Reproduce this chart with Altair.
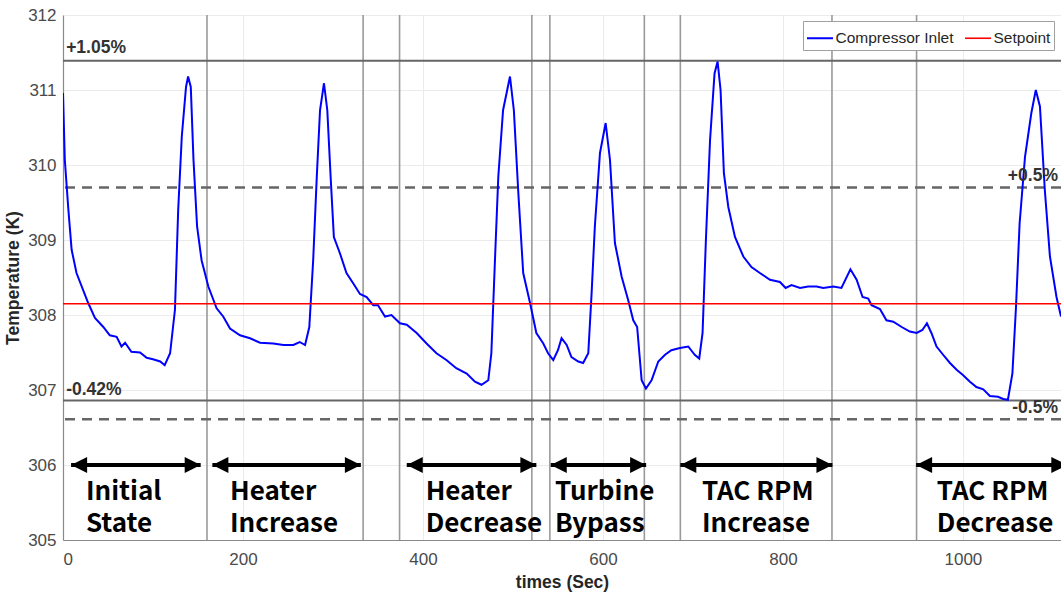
import altair as alt
import pandas as pd

# ---------------- data ----------------
times = [0, 2, 6, 9.6, 15, 28, 35.5, 44.8, 52, 59.6, 65, 69, 76, 85.6, 93, 100, 108, 113, 119, 124.4,
         128, 132, 136.7, 139, 142, 145, 149, 154, 161.5, 170.7, 178, 185.6, 196.7, 207.8, 219, 233.7,
         244.8, 256, 263, 269, 273.7, 278, 282, 285.6, 290, 293.7, 297.4, 301, 307.8, 315, 322.6, 330,
         337.4, 344.8, 350, 357.8, 365, 374.4, 382, 393, 404, 415, 426, 437, 448.6, 457.8, 465, 472.6,
         476, 480, 483.7, 489, 496.7, 501, 506, 511.4, 519, 526, 533.7, 539, 544.8, 550, 554, 559.7,
         565, 572.6, 578, 583.7, 587.4, 591, 596.7, 603, 607.8, 613.3, 620.8, 628, 633.7, 638, 643,
         647.8, 654, 661.5, 669, 676, 685.6, 694.8, 702, 707, 710.7, 714.4, 719, 724, 727.4, 730.7,
         734.4, 739.3, 746.7, 756, 765, 774.4, 785.6, 796.7, 803, 809.6, 819, 828, 837.4, 844.8, 856,
         865, 875, 881.9, 888.5, 894.8, 898.5, 907.8, 915, 922.6, 932, 941, 948.6, 955, 960, 965,
         970.7, 978, 985.6, 993, 1000, 1007.8, 1015, 1022.6, 1030, 1039, 1044.8, 1050, 1055, 1059,
         1063, 1069, 1076, 1081, 1085.6, 1091, 1096.7, 1104, 1109]
temps = [310.96, 310.07, 309.4, 308.87, 308.56, 308.16, 307.96, 307.84, 307.73, 307.71, 307.58, 307.63,
         307.51, 307.5, 307.43, 307.41, 307.38, 307.33, 307.49, 308.07, 309.4, 310.38, 311.04, 311.18,
         311.04, 310.07, 309.18, 308.73, 308.38, 308.09, 307.98, 307.82, 307.73, 307.69, 307.63, 307.62,
         307.6, 307.6, 307.64, 307.6, 307.84, 308.73, 309.84, 310.73, 311.09, 310.73, 309.84, 309.04,
         308.82, 308.56, 308.42, 308.28, 308.24, 308.13, 308.13, 307.98, 308.0, 307.89, 307.87, 307.76,
         307.62, 307.49, 307.4, 307.29, 307.22, 307.11, 307.07, 307.13, 307.49, 308.73, 309.84, 310.73,
         311.18, 310.73, 309.62, 308.56, 308.16, 307.76, 307.62, 307.49, 307.4, 307.53, 307.69, 307.6,
         307.44, 307.38, 307.36, 307.49, 308.29, 309.18, 310.16, 310.56, 310.07, 308.96, 308.51, 308.2,
         307.93, 307.84, 307.13, 307.02, 307.13, 307.38, 307.47, 307.53, 307.56, 307.58, 307.47, 307.42,
         307.76, 309.0, 310.33, 311.22, 311.38, 311.0, 309.89, 309.44, 309.04, 308.78, 308.64, 308.56,
         308.47, 308.44, 308.36, 308.4, 308.36, 308.38, 308.38, 308.36, 308.38, 308.36, 308.61, 308.47,
         308.24, 308.22, 308.13, 308.08, 307.93, 307.91, 307.84, 307.78, 307.76, 307.8, 307.89, 307.76,
         307.58, 307.47, 307.36, 307.27, 307.2, 307.11, 307.04, 307.01, 306.92, 306.91, 306.88, 306.87,
         307.22, 308.11, 309.22, 310.11, 310.69, 311.0, 310.78, 309.67, 308.78, 308.24, 307.98]
setpoint_times = [0, 1109]
setpoint_temps = [308.15, 308.15]

event_times = [160, 333.5, 374, 521, 541, 646, 686, 854.5, 948.5]
solid_limits = [311.39, 306.86]
dashed_limits = [309.70, 306.61]

arrow_start = [9, 166, 382, 542, 686, 948]
arrow_end = [153, 331, 526, 648, 855, 1116]
arrow_level = [306.0] * 6

phase_labels = ["Initial\nState", "Heater\nIncrease", "Heater\nDecrease",
                "Turbine\nBypass", "TAC RPM\nIncrease", "TAC RPM\nDecrease"]
phase_label_x = [25.5, 185.6, 403, 546.7, 710, 971]
phase_label_y = [305.533] * 6

left_limit_labels = ["+1.05%", "-0.42%"]
left_limit_x = [3.5, 3.5]
left_limit_y = [311.493, 306.933]
right_limit_labels = ["+0.5%", "-0.5%"]
right_limit_x = [1105.6, 1105.6]
right_limit_y = [309.787, 306.693]

# ---------------- tables ----------------
series_df = pd.concat([
    pd.DataFrame({"t": times, "T": temps, "series": "Compressor Inlet"}),
    pd.DataFrame({"t": setpoint_times, "T": setpoint_temps, "series": "Setpoint"}),
])
events_df = pd.DataFrame({"t": event_times})
solid_df = pd.DataFrame({"T": solid_limits})
dashed_df = pd.DataFrame({"T": dashed_limits})
arrows_df = pd.DataFrame({"t": arrow_start, "t2": arrow_end, "T": arrow_level})
phase_df = pd.DataFrame({"t": phase_label_x, "T": phase_label_y, "label": phase_labels})
left_df = pd.DataFrame({"t": left_limit_x, "T": left_limit_y, "label": left_limit_labels})
right_df = pd.DataFrame({"t": right_limit_x, "T": right_limit_y, "label": right_limit_labels})

xscale = alt.Scale(domain=[0, 1109], nice=False, zero=False)
yscale = alt.Scale(domain=[305, 312], nice=False, zero=False)
xaxis = alt.Axis(values=[0, 200, 400, 600, 800, 1000], format="d", title="times (Sec)")
yaxis = alt.Axis(values=[305, 306, 307, 308, 309, 310, 311, 312], format="d", title="Temperature (K)")


def X(field):
    return alt.X(f"{field}:Q", scale=xscale, axis=xaxis, title="times (Sec)")


def Y(field):
    return alt.Y(f"{field}:Q", scale=yscale, axis=yaxis, title="Temperature (K)")


events = alt.Chart(events_df).mark_rule(color="#9a9a9a", strokeWidth=1.6).encode(x=X("t"))
solid = alt.Chart(solid_df).mark_rule(color="#666666", strokeWidth=2).encode(y=Y("T"))
dashed = alt.Chart(dashed_df).mark_rule(color="#666666", strokeWidth=2.5, strokeDash=[10, 7]).encode(y=Y("T"))

lines = alt.Chart(series_df).mark_line(clip=True).encode(
    x=X("t"), y=Y("T"),
    color=alt.Color("series:N",
                    scale=alt.Scale(domain=["Compressor Inlet", "Setpoint"], range=["#0000ff", "#ff0000"]),
                    legend=alt.Legend(title=None, orient="none", legendX=740, legendY=6,
                                      direction="horizontal")),
    strokeWidth=alt.StrokeWidth("series:N", scale=alt.Scale(domain=["Compressor Inlet", "Setpoint"],
                                                              range=[2, 1.6]), legend=None),
    detail="series:N",
)

arrow_body = alt.Chart(arrows_df).mark_rule(color="black", strokeWidth=4).encode(
    x=X("t"), x2="t2", y=Y("T"))
head_left = alt.Chart(arrows_df).mark_point(
    shape="M0,0L2,-1L2,1Z", filled=True, color="black", size=256, opacity=1).encode(
    x=X("t"), y=Y("T"))
head_right = alt.Chart(arrows_df).mark_point(
    shape="M0,0L-2,-1L-2,1Z", filled=True, color="black", size=256, opacity=1).encode(
    x=alt.X("t2:Q", scale=xscale, axis=xaxis, title="times (Sec)"), y=Y("T"))

phase_text = alt.Chart(phase_df).mark_text(
    font="Noto Sans CJK KR", fontWeight="bold", fontSize=26, align="left", baseline="alphabetic",
    lineBreak="\n", lineHeight=32, color="black").encode(x=X("t"), y=Y("T"), text="label:N")

left_text = alt.Chart(left_df).mark_text(
    font="Liberation Sans", fontWeight="bold", fontSize=17.5, align="left", baseline="alphabetic",
    color="#333333").encode(x=X("t"), y=Y("T"), text="label:N")
right_text = alt.Chart(right_df).mark_text(
    font="Liberation Sans", fontWeight="bold", fontSize=17.5, align="right", baseline="alphabetic",
    color="#333333").encode(x=X("t"), y=Y("T"), text="label:N")

chart = alt.layer(
    events, solid, dashed, lines, arrow_body, head_left, head_right, phase_text, left_text, right_text
).properties(
    width=998, height=525,
    autosize=alt.AutoSizeParams(type="none"),
    padding={"left": 63, "top": 15, "right": 0, "bottom": 53},
).configure_view(
    strokeWidth=0
).configure_axis(
    grid=True, gridColor="#ebebeb", gridWidth=1,
    domainColor="#8a8a8a", domainWidth=1.2, ticks=False,
    labelFont="Liberation Sans", labelFontSize=17, labelColor="#4a4a4a",
    titleFont="Liberation Sans", titleFontSize=17.5, titleFontWeight="bold", titleColor="#262626",
).configure_axisX(
    labelPadding=11, titlePadding=6,
).configure_axisY(
    labelPadding=7, titlePadding=5,
).configure_legend(
    fillColor="white", strokeColor="#a0a0a0", padding=3, cornerRadius=0,
    labelFont="Liberation Sans", labelFontSize=15.5, labelColor="#262626",
    symbolType="stroke", symbolSize=676, symbolStrokeWidth=2, labelOffset=1.5, columnPadding=7,
)

chart.save("out.html", embed_options={"renderer": "svg", "actions": False})
